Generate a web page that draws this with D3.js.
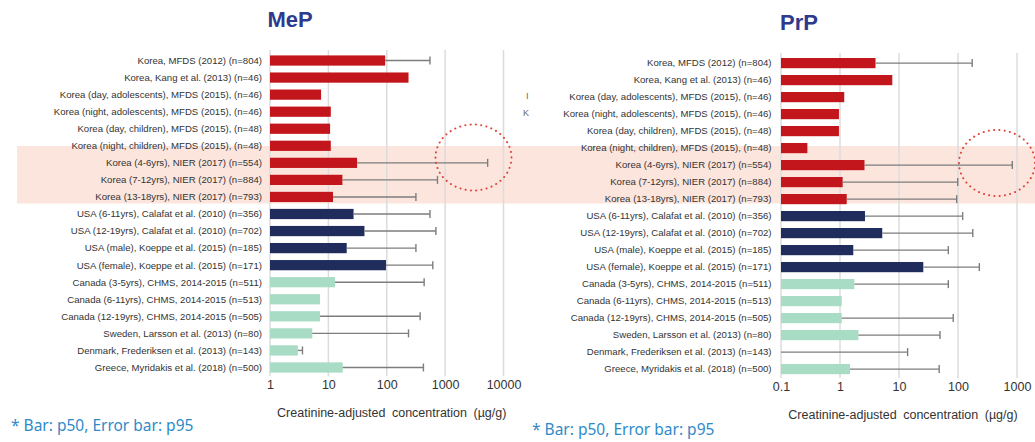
<!DOCTYPE html>
<html>
<head>
<meta charset="utf-8">
<script src="https://cdn.jsdelivr.net/npm/d3@7/dist/d3.min.js"></script>
<style>
  html, body { margin: 0; padding: 0; background: #fff; }
  svg { display: block; }
</style>
</head>
<body>
<svg id="chart" width="1035" height="442"></svg>
<script>
// Study populations (rows, top to bottom)
const studies = [
  "Korea, MFDS (2012) (n=804)",
  "Korea, Kang et al. (2013) (n=46)",
  "Korea (day, adolescents), MFDS (2015), (n=46)",
  "Korea (night, adolescents), MFDS (2015), (n=46)",
  "Korea (day, children), MFDS (2015), (n=48)",
  "Korea (night, children), MFDS (2015), (n=48)",
  "Korea (4-6yrs), NIER (2017) (n=554)",
  "Korea (7-12yrs), NIER (2017) (n=884)",
  "Korea (13-18yrs), NIER (2017) (n=793)",
  "USA (6-11yrs), Calafat et al. (2010) (n=356)",
  "USA (12-19yrs), Calafat et al. (2010) (n=702)",
  "USA (male), Koeppe et al. (2015) (n=185)",
  "USA (female), Koeppe et al. (2015) (n=171)",
  "Canada (3-5yrs), CHMS, 2014-2015 (n=511)",
  "Canada (6-11yrs), CHMS, 2014-2015 (n=513)",
  "Canada (12-19yrs), CHMS, 2014-2015 (n=505)",
  "Sweden, Larsson et al. (2013) (n=80)",
  "Denmark, Frederiksen et al. (2013) (n=143)",
  "Greece, Myridakis et al. (2018) (n=500)"
];
const regions = ["Korea","Korea","Korea","Korea","Korea","Korea","Korea","Korea","Korea",
  "USA","USA","USA","USA","Other","Other","Other","Other","Other","Other"];

// Methylparaben, creatinine-adjusted (µg/g): median and 95th percentile
const mepP50 = [94, 236, 7.5, 11, 10.7, 11, 31, 17.4, 12, 27, 41.5, 20.6, 97, 13, 7.2, 7.2, 5.3, 3.0, 17.6];
const mepP95 = [550, null, null, null, null, null, 5350, 740, 316, 550, 695, 316, 615, 437, null, 373, 236, 3.6, 425];

// Propylparaben, creatinine-adjusted (µg/g): median and 95th percentile
const prpP50 = [4.0, 7.7, 1.18, 0.96, 0.96, 0.28, 2.6, 1.11, 1.3, 2.65, 5.2, 1.68, 25.8, 1.75, 1.07, 1.07, 2.05, 0.1, 1.48];
const prpP95 = [174, null, null, null, null, null, 832, 99, 95, 120, 178, 68.5, 230, 68.5, null, 83, 49.5, 14, 48];

const mepTicks = [1, 10, 100, 1000, 10000];
const prpTicks = [0.1, 1, 10, 100, 1000];

const axisTitle = "Creatinine-adjusted concentration (\u00b5g/g)";
const noteText = "* Bar: p50, Error bar: p95";

const regionColor = d3.scaleOrdinal()
  .domain(["Korea", "USA", "Other"])
  .range(["#c3161c", "#1f2c5c", "#a8dcc5"]);

const svg = d3.select("#chart");
const font = "'Liberation Sans', Arial, sans-serif";

// Shaded band behind the NIER (2017) rows
svg.append("rect")
  .attr("x", 17).attr("y", 146)
  .attr("width", 1018).attr("height", 57.5)
  .attr("fill", "#fce5dd");

function panel(cfg) {
  const x = d3.scaleLog().domain(cfg.domain).range(cfg.xRange);
  const y = d3.scaleBand().domain(d3.range(studies.length))
    .range(cfg.yRange).paddingInner(0.4).paddingOuter(0.2);
  const g = svg.append("g");

  // vertical gridlines at each decade
  g.selectAll("line.grid").data(cfg.ticks).join("line")
    .attr("class", "grid")
    .attr("x1", d => x(d)).attr("x2", d => x(d))
    .attr("y1", cfg.gridTop).attr("y2", cfg.gridBottom)
    .attr("stroke", "#dcdcdc").attr("stroke-width", 1.5);

  const rows = studies.map((s, i) => ({ i, label: s, p50: cfg.p50[i], p95: cfg.p95[i], region: regions[i] }));

  // p50 bars
  g.selectAll("rect.bar").data(rows).join("rect")
    .attr("class", "bar")
    .attr("x", x(cfg.domain[0]))
    .attr("y", d => y(d.i))
    .attr("width", d => Math.max(0, x(d.p50) - x(cfg.domain[0])))
    .attr("height", y.bandwidth())
    .attr("fill", d => regionColor(d.region));

  // p95 whiskers
  const err = rows.filter(d => d.p95 != null);
  g.selectAll("line.err").data(err).join("line")
    .attr("class", "err")
    .attr("x1", d => x(d.p50)).attr("x2", d => x(d.p95))
    .attr("y1", d => y(d.i) + y.bandwidth() / 2)
    .attr("y2", d => y(d.i) + y.bandwidth() / 2)
    .attr("stroke", "#7d7d7d").attr("stroke-width", 1.4);
  g.selectAll("line.cap").data(err).join("line")
    .attr("class", "cap")
    .attr("x1", d => x(d.p95)).attr("x2", d => x(d.p95))
    .attr("y1", d => y(d.i) + y.bandwidth() / 2 - 4)
    .attr("y2", d => y(d.i) + y.bandwidth() / 2 + 4)
    .attr("stroke", "#7d7d7d").attr("stroke-width", 1.4);

  // row labels
  g.selectAll("text.lab").data(rows).join("text")
    .attr("class", "lab")
    .attr("x", cfg.labelX)
    .attr("y", d => y(d.i) + y.bandwidth() / 2)
    .attr("dy", "0.35em")
    .attr("text-anchor", "end")
    .attr("font-family", font)
    .attr("font-size", 9.6)
    .attr("fill", "#333")
    .text(d => d.label);

  // bottom axis (labels only)
  const axis = d3.axisBottom(x).tickValues(cfg.ticks)
    .tickFormat(d => String(d)).tickSize(0).tickPadding(0);
  const ag = g.append("g")
    .attr("transform", `translate(0,${cfg.tickY})`)
    .call(axis);
  ag.select(".domain").remove();
  ag.selectAll("text")
    .attr("font-family", font).attr("font-size", 12.5)
    .attr("fill", "#333").attr("dy", "0.35em").attr("y", 0);

  g.append("text")
    .attr("x", (cfg.xRange[0] + cfg.xRange[1]) / 2 + cfg.titleShift)
    .attr("y", cfg.tickY + 28)
    .attr("dy", "0.35em")
    .attr("text-anchor", "middle")
    .attr("font-family", font).attr("font-size", 12.5)
    .attr("word-spacing", 3)
    .attr("fill", "#333")
    .text(axisTitle);

  // panel heading
  g.append("text")
    .attr("x", cfg.headX).attr("y", cfg.headY)
    .attr("text-anchor", "middle")
    .attr("font-family", font).attr("font-weight", "bold")
    .attr("font-size", 22).attr("fill", "#2e3a8e")
    .text(cfg.head);

  // dotted ellipse around the NIER (2017) 4-6yrs p95
  g.append("ellipse")
    .attr("cx", cfg.ring[0]).attr("cy", cfg.ring[1])
    .attr("rx", 38).attr("ry", 33)
    .attr("fill", "none")
    .attr("stroke", "#e0443a").attr("stroke-width", 2)
    .attr("stroke-linecap", "round")
    .attr("stroke-dasharray", "0.1 5.2");

  // footnote
  g.append("text")
    .attr("x", cfg.noteX).attr("y", cfg.noteY)
    .attr("font-family", "'Noto Sans', sans-serif")
    .attr("font-size", 15.5).attr("fill", "#2f8ac8")
    .text(noteText);
}

panel({
  head: "MeP", headX: 290, headY: 27,
  domain: [1, 10000], ticks: mepTicks,
  xRange: [270, 503.5], yRange: [52, 376],
  gridTop: 50, gridBottom: 376,
  labelX: 262, tickY: 385, titleShift: 5,
  ring: [473.5, 157.5],
  p50: mepP50, p95: mepP95,
  noteX: 11, noteY: 431
});

panel({
  head: "PrP", headX: 799, headY: 30,
  domain: [0.1, 1000], ticks: prpTicks,
  xRange: [781, 1017], yRange: [54.6, 377.6],
  gridTop: 53, gridBottom: 378,
  labelX: 771.5, tickY: 387, titleShift: 4,
  ring: [997, 163],
  p50: prpP50, p95: prpP95,
  noteX: 532, noteY: 435
});

// stray glyphs at the panel seam
svg.append("text").attr("x", 526).attr("y", 99)
  .attr("font-family", font).attr("font-size", 9).attr("fill", "#666").text("I");
svg.append("text").attr("x", 523).attr("y", 116)
  .attr("font-family", font).attr("font-size", 9).attr("fill", "#666").text("K");
</script>
</body>
</html>
